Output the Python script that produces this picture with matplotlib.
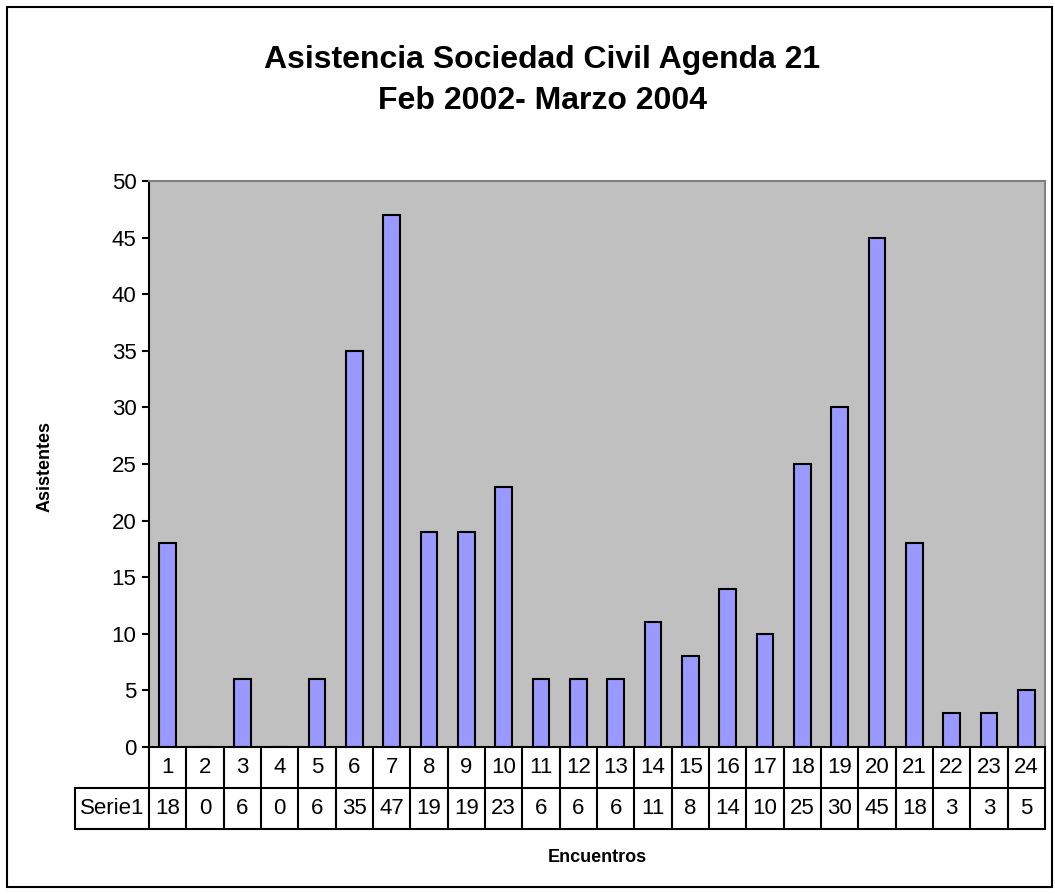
import matplotlib.pyplot as plt
from matplotlib.patches import Rectangle

plt.rcParams['font.family'] = ['Liberation Sans', 'DejaVu Sans']

encuentros = [str(i) for i in range(1, 25)]
asistentes = [18, 0, 6, 0, 6, 35, 47, 19, 19, 23, 6, 6, 6, 11, 8, 14, 10, 25, 30, 45, 18, 3, 3, 5]
serie = 'Serie1'

W, H = 1055, 894
fig = plt.figure(figsize=(W / 100, H / 100), dpi=100)
fig.patches.append(Rectangle((7 / W, 7 / H), 1045 / W, 880 / H, transform=fig.transFigure,
                             fill=False, edgecolor='black', linewidth=1.5))

left, right, top, bottom = 149, 1045, 181, 747
ax = fig.add_axes([left / W, (H - bottom) / H, (right - left) / W, (bottom - top) / H])
ax.set_facecolor('#C0C0C0')

x = list(range(len(asistentes)))
ax.bar(x, asistentes, width=0.44, color='#9999FF', edgecolor='black', linewidth=1.5)
ax.set_xlim(-0.5, len(asistentes) - 0.5)
ax.set_ylim(0, 50)
ax.set_yticks(range(0, 51, 5))
ax.tick_params(axis='y', labelsize=16, length=5, width=1.5, direction='out', pad=4)
ax.set_xticks([])
for s in ['top', 'right']:
    ax.spines[s].set_color('#808080')
    ax.spines[s].set_linewidth(1.5)
for s in ['left', 'bottom']:
    ax.spines[s].set_linewidth(1.5)

# tabla de datos
rh = 41 / (bottom - top)
cw = (right - left) / len(x)
tr = ax.get_xaxis_transform()
kw = dict(color='black', linewidth=1.5, clip_on=False, transform=tr)
x0 = -0.5 - 74 / cw
ax.plot([-0.5, len(x) - 0.5], [-rh, -rh], **kw)
ax.plot([x0, len(x) - 0.5], [-2 * rh, -2 * rh], **kw)
ax.plot([x0, x0], [-rh, -2 * rh], **kw)
ax.plot([x0, -0.5], [-rh, -rh], **kw)
for i in range(len(x) + 1):
    ax.plot([i - 0.5, i - 0.5], [0, -2 * rh], **kw)
for i, (c, v) in enumerate(zip(encuentros, asistentes)):
    ax.text(i, -rh / 2, c, ha='center', va='center', fontsize=16, transform=tr)
    ax.text(i, -1.5 * rh, str(v), ha='center', va='center', fontsize=16, transform=tr)
ax.text((x0 - 0.5) / 2, -1.5 * rh, serie, ha='center', va='center', fontsize=16, transform=tr)

fig.text(542 / W, 1 - 60 / H, 'Asistencia Sociedad Civil Agenda 21', ha='center', va='center',
         fontsize=23, fontweight='bold')
fig.text(542 / W, 1 - 101 / H, 'Feb 2002- Marzo 2004', ha='center', va='center',
         fontsize=23, fontweight='bold')
fig.text(45 / W, 1 - 467 / H, 'Asistentes', rotation=90, ha='center', va='center',
         fontsize=13, fontweight='bold')
fig.text(597 / W, 1 - 857 / H, 'Encuentros', ha='center', va='center',
         fontsize=13, fontweight='bold')

fig.savefig('out.png', dpi=100)
